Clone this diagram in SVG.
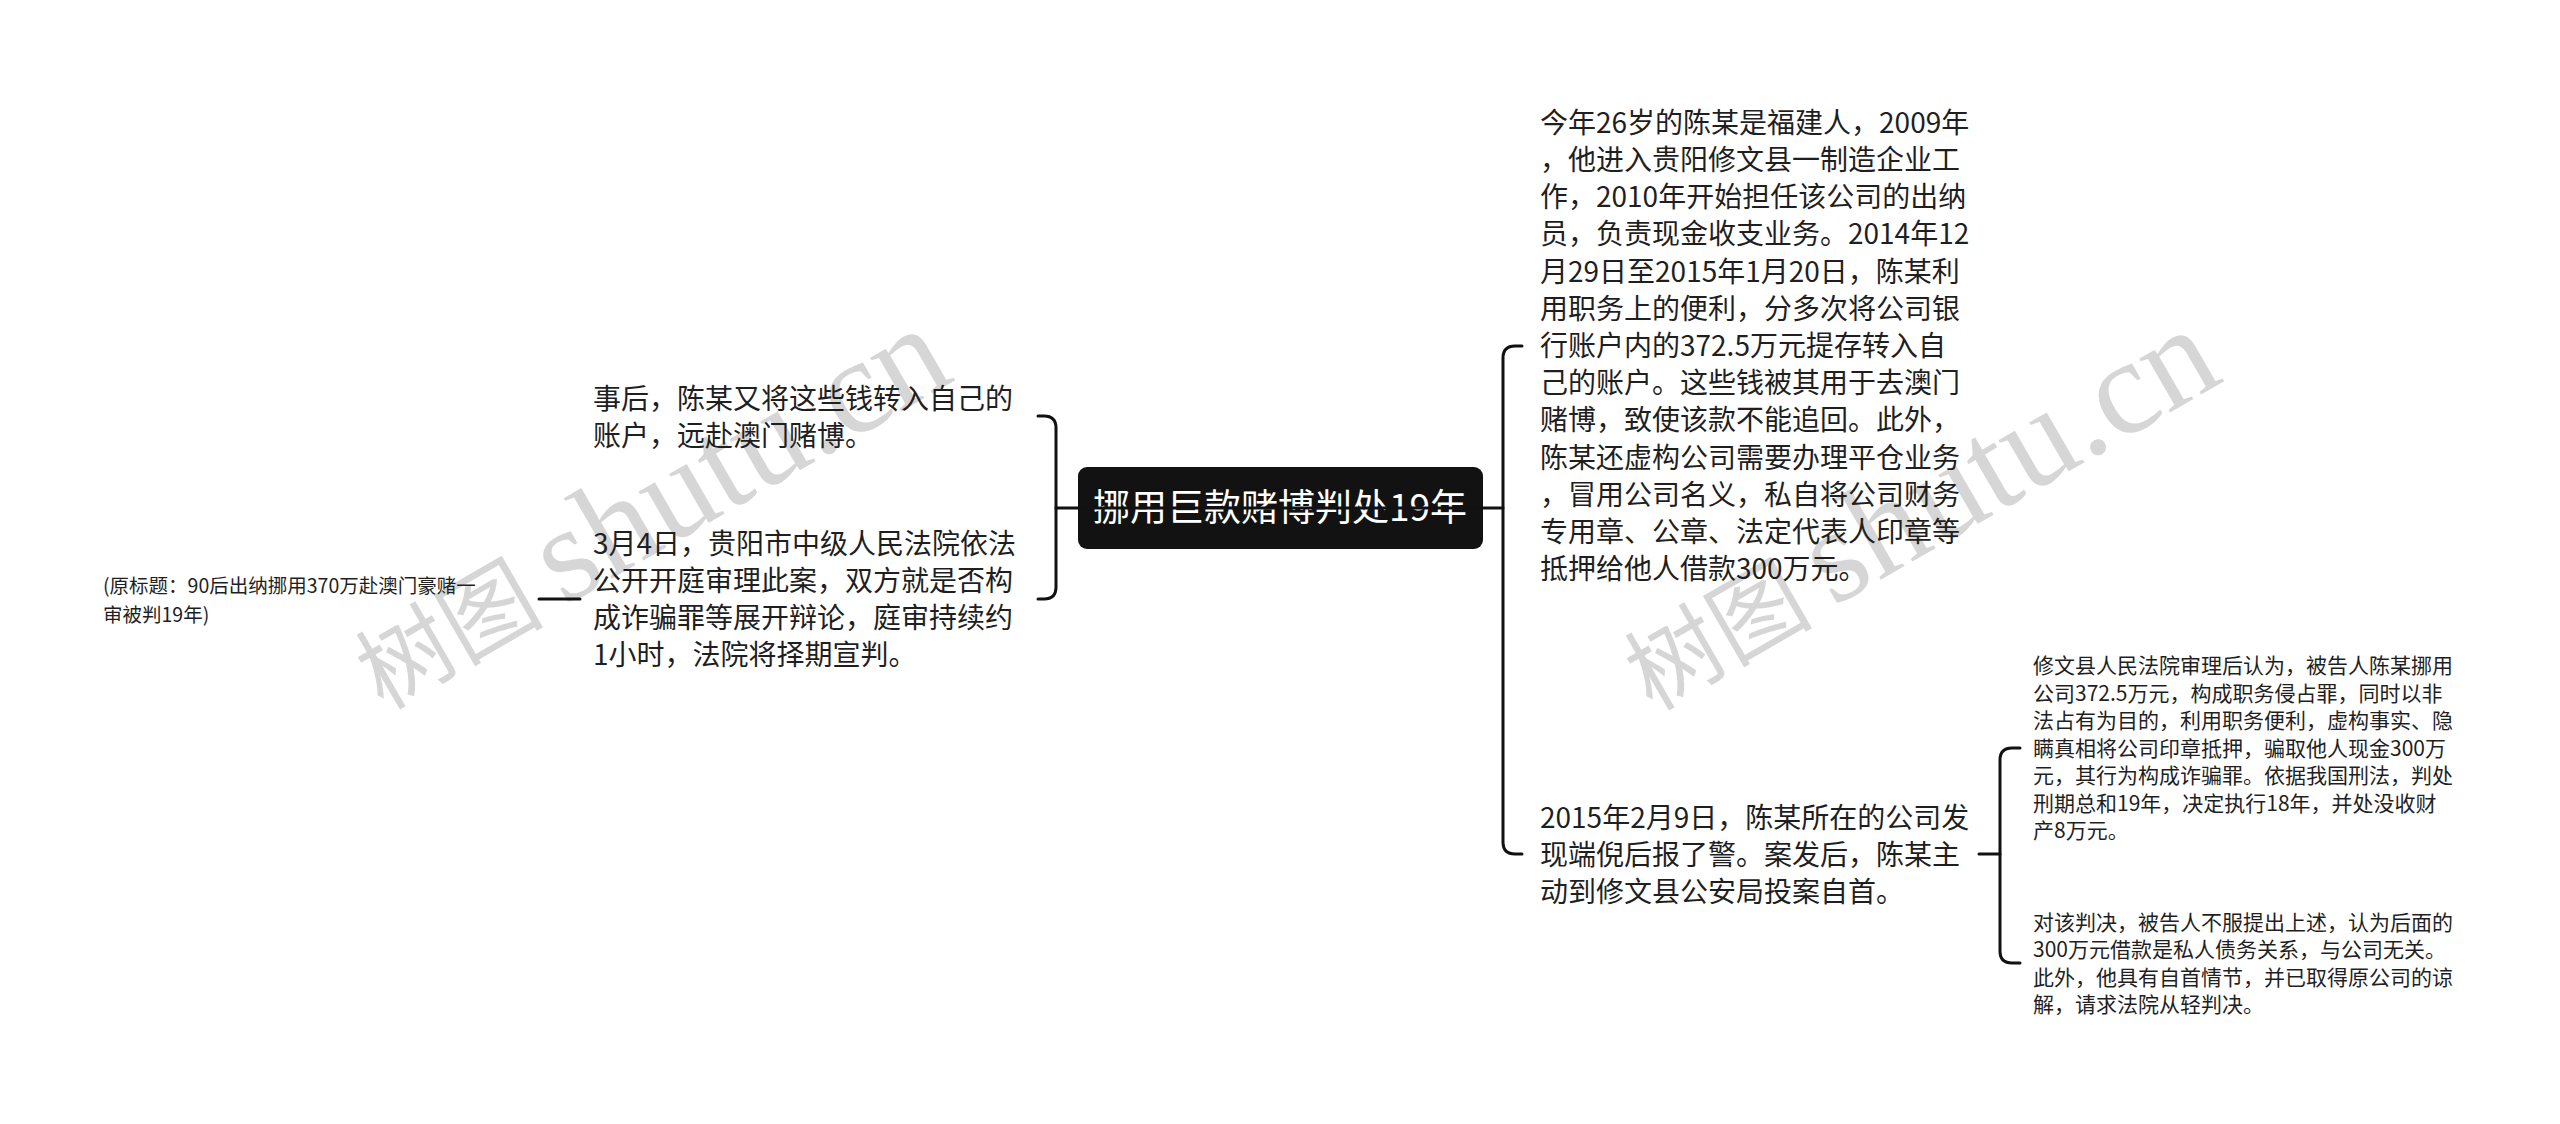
<svg xmlns="http://www.w3.org/2000/svg" width="2560" height="1124" viewBox="0 0 2560 1124">
<style>
.t{font-family:"Noto Sans CJK SC","Noto Sans",sans-serif;fill:#1f1f1f}
.big{font-size:28px}
.small{font-size:21px}
.tiny{font-size:19.5px}
.root{font-family:"Noto Sans CJK SC","Noto Sans",sans-serif;font-size:37px;fill:#ffffff}
.wm{fill:#cfcfcf;fill-opacity:0.85}
.wmc{font-family:"Noto Sans CJK SC",sans-serif;font-size:94px}
.wml{font-family:"Liberation Serif",serif;font-size:135px}
.c{fill:none;stroke:#111;stroke-width:3;stroke-linecap:round;stroke-linejoin:round}
</style>
<rect width="2560" height="1124" fill="#ffffff"/>
<g id="watermarks">
<text class="wm" transform="translate(670,545) rotate(-30)" text-anchor="middle"><tspan class="wmc">树图 </tspan><tspan class="wml">shutu.cn</tspan></text>
<text class="wm" transform="translate(1939,546) rotate(-30)" text-anchor="middle"><tspan class="wmc">树图 </tspan><tspan class="wml">shutu.cn</tspan></text>
</g>
<g id="root">
<rect x="1078" y="467" width="405" height="82" rx="9" fill="#121212"/>
<text class="root" x="1280" y="521" text-anchor="middle">挪用巨款赌博判处19年</text>
</g>
<g id="node-left1">
<text class="t big" x="593"><tspan x="593" y="409">事后，陈某又将这些钱转入自己的</tspan><tspan x="593" y="446">账户，远赴澳门赌博。</tspan></text>
</g>
<g id="node-left2">
<text class="t big" x="593"><tspan x="593" y="554">3月4日，贵阳市中级人民法院依法</tspan><tspan x="593" y="591">公开开庭审理此案，双方就是否构</tspan><tspan x="593" y="628">成诈骗罪等展开辩论，庭审持续约</tspan><tspan x="593" y="665">1小时，法院将择期宣判。</tspan></text>
</g>
<g id="node-left3">
<text class="t tiny" x="103"><tspan x="103" y="593">(原标题：90后出纳挪用370万赴澳门豪赌一</tspan><tspan x="103" y="622">审被判19年)</tspan></text>
</g>
<g id="node-right1">
<text class="t big" x="1540"><tspan x="1540" y="133">今年26岁的陈某是福建人，2009年</tspan><tspan x="1540" y="170">，他进入贵阳修文县一制造企业工</tspan><tspan x="1540" y="207">作，2010年开始担任该公司的出纳</tspan><tspan x="1540" y="244">员，负责现金收支业务。2014年12</tspan><tspan x="1540" y="282">月29日至2015年1月20日，陈某利</tspan><tspan x="1540" y="319">用职务上的便利，分多次将公司银</tspan><tspan x="1540" y="356">行账户内的372.5万元提存转入自</tspan><tspan x="1540" y="393">己的账户。这些钱被其用于去澳门</tspan><tspan x="1540" y="430">赌博，致使该款不能追回。此外，</tspan><tspan x="1540" y="468">陈某还虚构公司需要办理平仓业务</tspan><tspan x="1540" y="505">，冒用公司名义，私自将公司财务</tspan><tspan x="1540" y="542">专用章、公章、法定代表人印章等</tspan><tspan x="1540" y="579">抵押给他人借款300万元。</tspan></text>
</g>
<g id="node-right2">
<text class="t big" x="1540"><tspan x="1540" y="828">2015年2月9日，陈某所在的公司发</tspan><tspan x="1540" y="865">现端倪后报了警。案发后，陈某主</tspan><tspan x="1540" y="902">动到修文县公安局投案自首。</tspan></text>
</g>
<g id="node-right3">
<text class="t small" x="2033"><tspan x="2033" y="673">修文县人民法院审理后认为，被告人陈某挪用</tspan><tspan x="2033" y="701">公司372.5万元，构成职务侵占罪，同时以非</tspan><tspan x="2033" y="728">法占有为目的，利用职务便利，虚构事实、隐</tspan><tspan x="2033" y="756">瞒真相将公司印章抵押，骗取他人现金300万</tspan><tspan x="2033" y="783">元，其行为构成诈骗罪。依据我国刑法，判处</tspan><tspan x="2033" y="811">刑期总和19年，决定执行18年，并处没收财</tspan><tspan x="2033" y="838">产8万元。</tspan></text>
</g>
<g id="node-right4">
<text class="t small" x="2033"><tspan x="2033" y="930">对该判决，被告人不服提出上述，认为后面的</tspan><tspan x="2033" y="957">300万元借款是私人债务关系，与公司无关。</tspan><tspan x="2033" y="985">此外，他具有自首情节，并已取得原公司的谅</tspan><tspan x="2033" y="1012">解，请求法院从轻判决。</tspan></text>
</g>
<g id="connectors">
<path class="c" d="M1056,508 H1503"/>
<path class="c" d="M1038,416 H1044 Q1056,416 1056,428 V587 Q1056,599 1044,599 H1038"/>
<path class="c" d="M1522,346 H1515 Q1503,346 1503,358 V842 Q1503,854 1515,854 H1522"/>
<path class="c" d="M539,599 H580"/>
<path class="c" d="M1979,854 H2000"/>
<path class="c" d="M2020,748 H2012 Q2000,748 2000,760 V951 Q2000,963 2012,963 H2020"/>
</g>
</svg>
